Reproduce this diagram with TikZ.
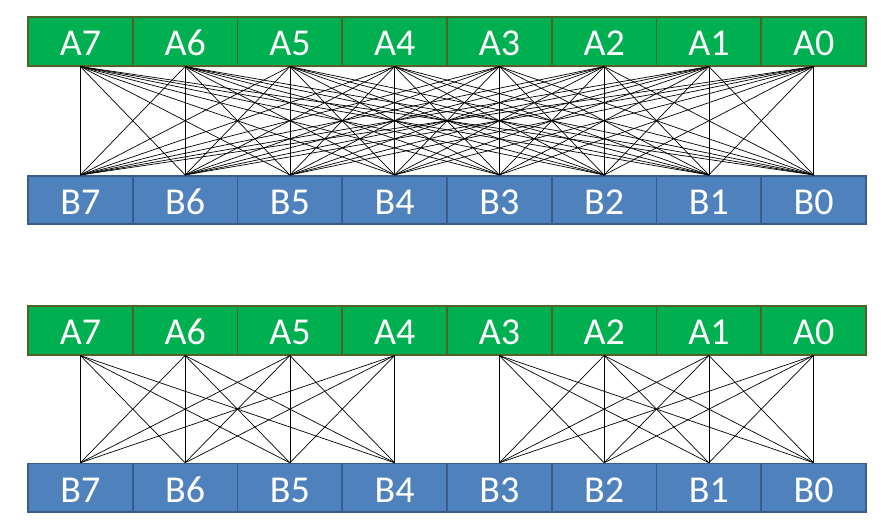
\documentclass[tikz,border=0pt]{standalone}
\usepackage{fontspec}
\setmainfont{Carlito}
\definecolor{gfill}{HTML}{00B050}
\definecolor{gline}{HTML}{4F6228}
\definecolor{bfill}{HTML}{4F81BD}
\definecolor{bline}{HTML}{385D8A}
\tikzset{
  cell/.style={minimum width=104.75pt, minimum height=48.5pt, inner sep=0pt, line width=1.6pt,
    text=white, font=\fontsize{38pt}{38pt}\selectfont, text height=28.5pt, text depth=0pt},
  gcell/.style={cell, fill=gfill, draw=gline},
  bcell/.style={cell, fill=bfill, draw=bline},
  wire/.style={line width=0.7pt, black}
}
\begin{document}
\begin{tikzpicture}[x=1pt,y=-1pt]
\useasboundingbox (0,0) rectangle (895,530);
\foreach \i in {0,...,7}{
  \pgfmathsetmacro{\cx}{28+104.75*(7-\i)+52.375}
  \node[gcell] (TA\i) at (\cx,41.5) {A\i};
  \node[bcell] (TB\i) at (\cx,200) {B\i};
  \node[gcell] (LA\i) at (\cx,330.5) {A\i};
  \node[bcell] (LB\i) at (\cx,487.8) {B\i};
}
\foreach \i in {0,...,7}{
  \foreach \j in {0,...,7}{
    \draw[wire] (TA\i.south) -- (TB\j.north);
  }
}
\foreach \i in {0,...,3}{
  \foreach \j in {0,...,3}{
    \draw[wire] (LA\i.south) -- (LB\j.north);
  }
}
\foreach \i in {4,...,7}{
  \foreach \j in {4,...,7}{
    \draw[wire] (LA\i.south) -- (LB\j.north);
  }
}
\end{tikzpicture}
\end{document}
